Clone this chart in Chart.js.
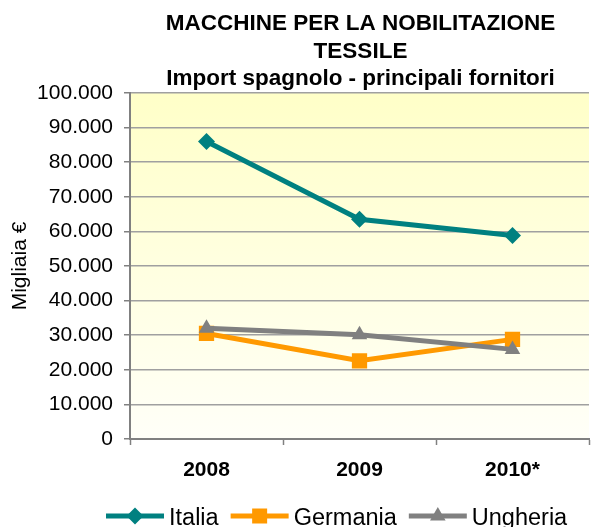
<!DOCTYPE html>
<html>
<head>
<meta charset="utf-8">
<script src="https://cdn.jsdelivr.net/npm/chart.js"></script>
<style>
  html, body { margin: 0; padding: 0; background: #ffffff; }
  #wrap { width: 592px; height: 527px; position: relative; }
</style>
</head>
<body>
<div id="wrap"><canvas id="c" width="592" height="527"></canvas></div>
<script>
// ---- data ----
const titleLines = ['MACCHINE PER LA NOBILITAZIONE', 'TESSILE', 'Import spagnolo - principali fornitori'];
const categories = ['2008', '2009', '2010*'];
const italia = [86000, 63500, 58800];
const germania = [30500, 22600, 28800];
const ungheria = [32000, 30100, 25900];
const seriesNames = ['Italia', 'Germania', 'Ungheria'];
const yTickLabels = ['0', '10.000', '20.000', '30.000', '40.000', '50.000', '60.000', '70.000', '80.000', '90.000', '100.000'];
const yAxisTitle = 'Migliaia €';

const FONT = '"Liberation Sans", Arial, "DejaVu Sans", sans-serif';

const bgPlugin = {
  id: 'plotBg',
  beforeDraw(chart) {
    const { ctx, chartArea: a } = chart;
    const g = ctx.createLinearGradient(0, a.top, 0, a.bottom);
    g.addColorStop(0, '#FFFFC8');
    g.addColorStop(1, '#FFFFF8');
    ctx.save();
    ctx.fillStyle = g;
    ctx.fillRect(a.left, a.top, a.right - a.left, a.bottom - a.top);
    ctx.restore();
  }
};

const titlePlugin = {
  id: 'centerTitle',
  afterDraw(chart) {
    const { ctx, chartArea: a } = chart;
    const cx = (a.left + a.right) / 2 + 1;
    ctx.save();
    ctx.font = 'bold 22.5px ' + FONT;
    ctx.fillStyle = '#000';
    ctx.textAlign = 'center';
    ctx.textBaseline = 'middle';
    titleLines.forEach((t, i) => ctx.fillText(t, cx, 24 + i * 27.5));
    ctx.restore();
  }
};

function drawMarker(ctx, style, x, y, color) {
  ctx.fillStyle = color;
  ctx.beginPath();
  if (style === 'rectRot') {
    const r = 8.5;
    ctx.moveTo(x, y - r); ctx.lineTo(x + r, y); ctx.lineTo(x, y + r); ctx.lineTo(x - r, y);
  } else if (style === 'rect') {
    const s = 7.5;
    ctx.rect(x - s, y - s, 2 * s, 2 * s);
  } else {
    const r = 9;
    ctx.moveTo(x, y - r);
    ctx.lineTo(x + r * 0.866, y + r * 0.5);
    ctx.lineTo(x - r * 0.866, y + r * 0.5);
  }
  ctx.closePath();
  ctx.fill();
}

const legendPlugin = {
  id: 'lineLegend',
  afterDraw(chart) {
    const { ctx } = chart;
    const y = 516;
    let x = 106;
    ctx.save();
    ctx.font = '23.5px ' + FONT;
    ctx.textBaseline = 'middle';
    ctx.textAlign = 'left';
    chart.data.datasets.forEach(ds => {
      ctx.strokeStyle = ds.borderColor;
      ctx.lineWidth = 5;
      ctx.beginPath();
      ctx.moveTo(x, y);
      ctx.lineTo(x + 58, y);
      ctx.stroke();
      drawMarker(ctx, ds.pointStyle, x + 29, y, ds.borderColor);
      ctx.fillStyle = '#000';
      ctx.fillText(ds.label, x + 63, y + 3);
      x += 63 + ctx.measureText(ds.label).width + 12;
    });
    ctx.restore();
  }
};

const colors = ['#008080', '#FF9900', '#808080'];
const styles = ['rectRot', 'rect', 'triangle'];
const radii = [8.5, 10.8, 9];
const values = [italia, germania, ungheria];
const orders = [2, 1, 0];

const datasets = values.map((v, i) => ({
  label: seriesNames[i],
  data: v,
  borderColor: colors[i],
  backgroundColor: colors[i],
  borderWidth: 5,
  pointStyle: styles[i],
  pointRadius: radii[i],
  pointHoverRadius: radii[i],
  pointBorderWidth: 0,
  pointBackgroundColor: colors[i],
  tension: 0,
  fill: false,
  order: orders[i]
}));

new Chart(document.getElementById('c'), {
  type: 'line',
  data: { labels: categories, datasets },
  plugins: [bgPlugin, titlePlugin, legendPlugin],
  options: {
    responsive: false,
    animation: false,
    events: [],
    layout: { autoPadding: false, padding: { top: 93, right: 3, bottom: 0, left: 0 } },
    plugins: {
      legend: { display: false },
      title: { display: false },
      tooltip: { enabled: false }
    },
    scales: {
      x: {
        type: 'category',
        offset: true,
        afterFit(s) { s.height = 88; s.paddingLeft = 0; s.paddingRight = 0; },
        grid: {
          offset: true,
          drawOnChartArea: false,
          drawTicks: true,
          tickLength: 6,
          tickColor: '#808080',
          tickWidth: 1.5
        },
        border: { display: true, color: '#808080', width: 2 },
        ticks: {
          color: '#000',
          padding: 13,
          maxRotation: 0,
          font: { family: FONT, size: 21, weight: 'bold' }
        }
      },
      y: {
        min: 0,
        max: 100000,
        afterFit(s) { s.width = 130; },
        afterBuildTicks(s) {
          s.ticks = yTickLabels.map((_, i) => ({ value: i * 10000 }));
        },
        grid: {
          color: '#A0A0A0',
          lineWidth: 1.5,
          drawTicks: true,
          tickLength: 6,
          tickColor: '#808080',
          tickWidth: 1.5
        },
        border: { display: true, color: '#808080', width: 2 },
        ticks: {
          color: '#000',
          padding: 11,
          font: { family: FONT, size: 21 },
          callback: (v, i) => yTickLabels[i]
        },
        title: {
          display: true,
          text: yAxisTitle,
          color: '#000',
          font: { family: FONT, size: 21 },
          padding: { top: 8, bottom: 0 }
        }
      }
    }
  }
});
</script>
</body>
</html>
